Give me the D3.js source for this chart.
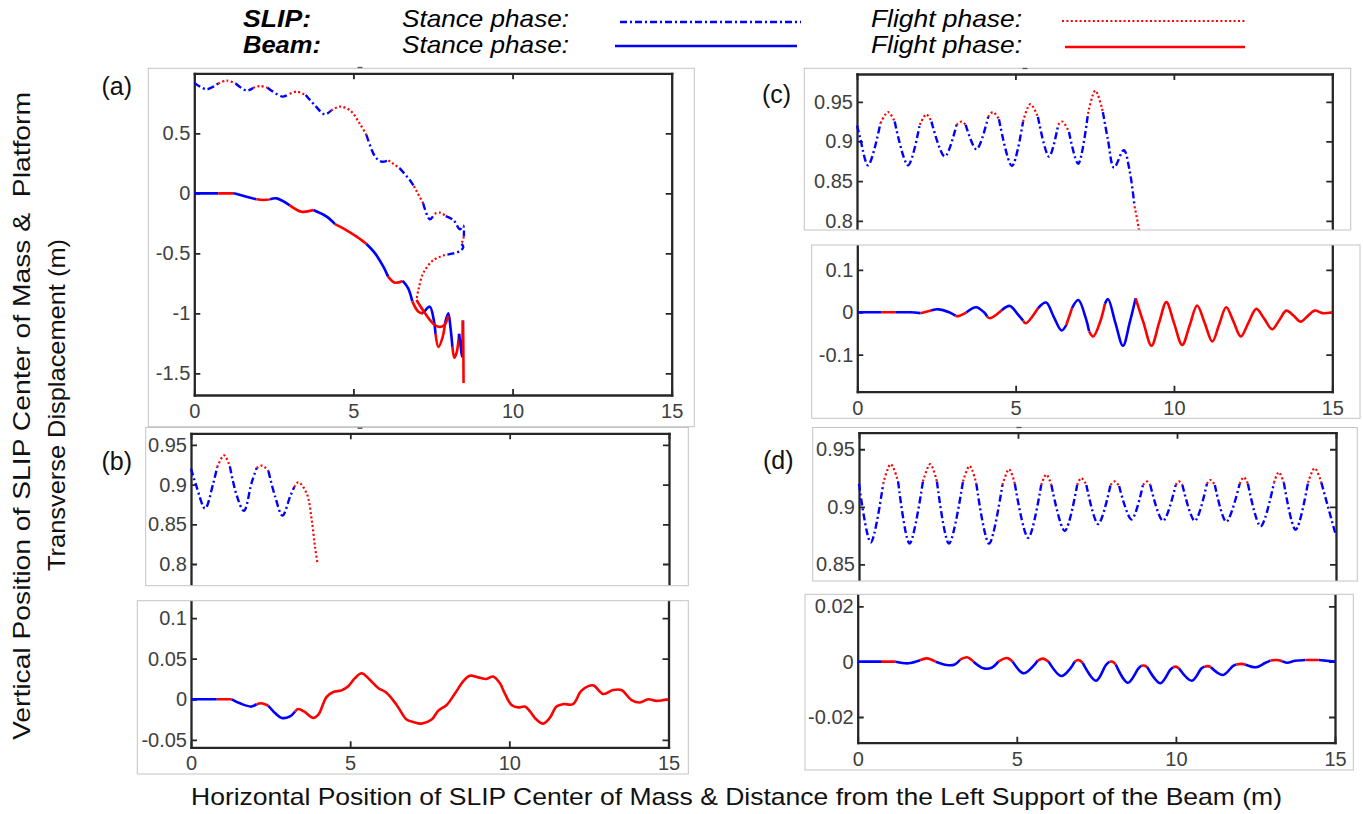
<!DOCTYPE html>
<html><head><meta charset="utf-8">
<script src="https://cdn.jsdelivr.net/npm/d3@7"></script>
<style>
body{margin:0;background:#fff}
svg{display:block}
text{font-family:"Liberation Sans",Arial,Helvetica,sans-serif}
</style>
</head><body>
<svg id="c" width="1363" height="814"></svg>
<script>
// ---------------- DATA ----------------
const X_DOMAIN = [0, 15];
const X_TICKS = [0, 5, 10, 15];
const X_TICK_LABELS = ["0", "5", "10", "15"];

const A_Y_DOMAIN = [-1.68, 1.0];
const A_Y_TICKS = [-1.5, -1, -0.5, 0, 0.5];
const A_Y_LABELS = ["-1.5", "-1", "-0.5", "0", "0.5"];

const B_SLIP_Y_DOMAIN = [0.75, 0.9647];
const C_SLIP_Y_DOMAIN = [0.75, 0.985];
const SLIP_Y_TICKS = [0.8, 0.85, 0.9, 0.95];
const SLIP_Y_LABELS = ["0.8", "0.85", "0.9", "0.95"];

const D_SLIP_Y_DOMAIN = [0.82, 0.9644];
const D_SLIP_Y_TICKS = [0.85, 0.9, 0.95];
const D_SLIP_Y_LABELS = ["0.85", "0.9", "0.95"];

const B_BEAM_Y_DOMAIN = [-0.0592, 0.13];
const B_BEAM_Y_TICKS = [-0.05, 0, 0.05, 0.1];
const B_BEAM_Y_LABELS = ["-0.05", "0", "0.05", "0.1"];

const C_BEAM_Y_DOMAIN = [-0.1875, 0.2];
const C_BEAM_Y_TICKS = [-0.1, 0, 0.1];
const C_BEAM_Y_LABELS = ["-0.1", "0", "0.1"];

const D_BEAM_Y_DOMAIN = [-0.0293, 0.03];
const D_BEAM_Y_TICKS = [-0.02, 0, 0.02];
const D_BEAM_Y_LABELS = ["-0.02", "0", "0.02"];

// [x, y, phase of the segment starting here]  S = stance, F = flight
const aSlip = [
 [0,0.92,"S"],[0.39,0.867,"S"],[0.75,0.915,"F"],[1.02,0.939,"F"],[1.30,0.915,"S"],[1.64,0.856,"S"],
 [1.85,0.878,"F"],[2.06,0.894,"F"],[2.30,0.88,"S"],[2.77,0.806,"S"],[3.0,0.83,"F"],[3.21,0.847,"F"],
 [3.5,0.82,"S"],[3.8,0.73,"S"],[4.10,0.658,"S"],[4.3,0.69,"F"],[4.58,0.722,"F"],[4.9,0.69,"F"],
 [5.2,0.58,"F"],[5.41,0.486,"S"],[5.68,0.306,"S"],[5.88,0.264,"S"],[6.1,0.275,"F"],[6.45,0.21,"S"],
 [6.77,0.111,"S"],[6.9,0.06,"F"],[7.19,-0.083,"S"],[7.40,-0.217,"S"],[7.55,-0.17,"F"],[7.72,-0.161,"F"],
 [7.9,-0.19,"S"],[8.14,-0.222,"S"],[8.35,-0.30,"S"],[8.45,-0.27,"S"],[8.47,-0.36,"F"],[8.40,-0.42,"S"],
 [8.45,-0.45,"S"],[8.35,-0.48,"S"],[8.14,-0.50,"S"],[7.87,-0.514,"F"],[7.51,-0.556,"F"],[7.19,-0.667,"F"],
 [7.04,-0.806,"F"],[6.98,-0.889,"F"]
];
const aBeam = [
 [0,0,"S"],[0.75,0,"F"],[1.25,0,"S"],[1.64,-0.028,"S"],[1.95,-0.05,"F"],[2.17,-0.056,"F"],[2.38,-0.05,"S"],
 [2.59,-0.042,"S"],[3.0,-0.10,"F"],[3.37,-0.153,"F"],[3.74,-0.139,"S"],[4.16,-0.194,"S"],[4.42,-0.256,"F"],
 [4.68,-0.292,"F"],[5.10,-0.361,"F"],[5.41,-0.422,"S"],[5.68,-0.50,"S"],[5.94,-0.611,"S"],[6.09,-0.694,"F"],
 [6.30,-0.744,"F"],[6.55,-0.73,"S"],[6.72,-0.792,"S"],[6.85,-0.9,"F"],[7.04,-0.986,"F"],[7.19,-1.0,"S"],
 [7.40,-0.944,"S"],[7.52,-1.05,"S"],[7.58,-1.17,"F"],[7.67,-1.28,"F"],[7.80,-1.2,"F"],[7.88,-1.08,"S"],
 [7.98,-1.0,"S"],[8.05,-1.12,"S"],[8.11,-1.28,"F"],[8.17,-1.37,"F"],[8.24,-1.33,"F"],[8.32,-1.17,"S"],
 [8.36,-1.25,"S"],[8.41,-1.36,"S"],[8.44,-1.06,"F"],[8.45,-1.2,"F"],[8.46,-1.58,"F"]
];
const aBeam2 = [
 [6.98,-0.889,"F"],[7.2,-0.98,"F"],[7.45,-1.07,"F"],[7.65,-1.11,"F"],[7.85,-1.1,"F"],[7.98,-1.02,"F"]
];

const bSlip = [
 [0,0.92,"S"],[0.18,0.897,"S"],[0.44,0.870,"S"],[0.70,0.902,"S"],[0.82,0.922,"F"],[1.04,0.937,"F"],
 [1.22,0.923,"S"],[1.43,0.887,"S"],[1.66,0.867,"S"],[1.90,0.902,"S"],[2.06,0.921,"F"],[2.24,0.924,"F"],
 [2.43,0.917,"S"],[2.64,0.885,"S"],[2.87,0.861,"S"],[3.11,0.885,"S"],[3.24,0.897,"F"],[3.37,0.903,"F"],
 [3.63,0.889,"F"],[3.79,0.855,"F"],[3.89,0.822,"F"],[3.97,0.801,"F"]
];
const bBeam = [
 [0,0,"S"],[0.81,0,"F"],[1.28,0,"S"],[1.54,-0.005,"S"],[1.90,-0.009,"S"],[2.06,-0.006,"F"],[2.22,-0.005,"F"],
 [2.43,-0.008,"S"],[2.64,-0.017,"S"],[2.85,-0.023,"S"],[3.11,-0.021,"S"],[3.27,-0.015,"F"],[3.37,-0.012,"F"],
 [3.55,-0.015,"F"],[3.84,-0.023,"F"],[4.0,-0.019,"F"],[4.26,0.003,"F"],[4.47,0.009,"F"],[4.73,0.011,"F"],
 [4.94,0.016,"F"],[5.15,0.026,"F"],[5.36,0.032,"F"],[5.57,0.026,"F"],[5.88,0.014,"F"],[6.14,0.008,"F"],
 [6.46,-0.007,"F"],[6.77,-0.025,"F"],[6.98,-0.028,"F"],[7.24,-0.030,"F"],[7.56,-0.025,"F"],[7.77,-0.014,"F"],
 [8.03,-0.007,"F"],[8.29,0.007,"F"],[8.55,0.022,"F"],[8.76,0.029,"F"],[9.02,0.027,"F"],[9.28,0.025,"F"],
 [9.49,0.028,"F"],[9.70,0.020,"F"],[9.86,0.007,"F"],[10.07,-0.007,"F"],[10.28,-0.010,"F"],[10.49,-0.009,"F"],
 [10.65,-0.015,"F"],[10.85,-0.025,"F"],[11.06,-0.030,"F"],[11.27,-0.023,"F"],[11.48,-0.009,"F"],
 [11.69,-0.006,"F"],[12.0,-0.006,"F"],[12.25,0.010,"F"],[12.5,0.0165,"F"],[12.65,0.017,"F"],
 [12.95,0.0065,"F"],[13.26,0.0114,"F"],[13.52,0.0114,"F"],[13.84,-0.001,"F"],[14.1,-0.004,"F"],
 [14.36,0,"F"],[14.62,-0.002,"F"],[15,0,"F"]
];

const cSlip = [
 [0,0.92,"S"],[0.09,0.906,"S"],[0.35,0.870,"S"],[0.74,0.923,"F"],[0.98,0.937,"F"],[1.19,0.925,"S"],
 [1.61,0.870,"S"],[1.98,0.921,"F"],[2.19,0.934,"F"],[2.35,0.925,"S"],[2.77,0.881,"S"],[3.14,0.921,"F"],
 [3.30,0.925,"F"],[3.43,0.921,"S"],[3.77,0.890,"S"],[4.14,0.931,"F"],[4.29,0.937,"F"],[4.48,0.928,"S"],
 [4.89,0.869,"S"],[5.24,0.925,"F"],[5.47,0.947,"F"],[5.71,0.931,"S"],[6.06,0.881,"S"],[6.35,0.921,"F"],
 [6.48,0.925,"F"],[6.69,0.912,"S"],[6.98,0.872,"S"],[7.29,0.935,"F"],[7.52,0.964,"F"],[7.76,0.937,"S"],
 [7.92,0.902,"S"],[8.11,0.867,"S"],[8.42,0.889,"S"],[8.60,0.864,"S"],[8.76,0.818,"F"],[8.90,0.788,"F"],
 [8.96,0.76,"F"]
];
const cBeam = [
 [0,0,"S"],[0.75,0,"F"],[1.22,0,"S"],[1.67,0,"S"],[2.0,-0.002,"F"],[2.33,0.004,"S"],[2.56,0.007,"S"],
 [2.9,0.0,"S"],[3.1,-0.008,"F"],[3.19,-0.009,"F"],[3.45,0.0,"S"],[3.75,0.012,"S"],[4.0,0.0,"S"],
 [4.1,-0.01,"F"],[4.19,-0.014,"F"],[4.56,0.005,"S"],[4.82,0.015,"S"],[5.07,-0.005,"S"],[5.24,-0.02,"F"],
 [5.32,-0.026,"F"],[5.71,0.01,"S"],[5.96,0.023,"S"],[6.2,-0.01,"S"],[6.45,-0.043,"S"],[6.6,-0.03,"F"],
 [6.78,0.01,"S"],[6.98,0.029,"S"],[7.22,-0.015,"S"],[7.32,-0.045,"F"],[7.45,-0.057,"F"],[7.68,-0.02,"F"],
 [7.82,0.02,"S"],[7.92,0.031,"S"],[8.15,-0.025,"S"],[8.39,-0.079,"S"],[8.6,-0.025,"S"],[8.79,0.033,"F"],
 [9.04,-0.025,"F"],[9.29,-0.079,"F"],[9.53,-0.025,"F"],[9.76,0.024,"F"],[10.0,-0.025,"F"],[10.26,-0.077,"F"],
 [10.5,-0.03,"F"],[10.73,0.016,"F"],[10.97,-0.025,"F"],[11.21,-0.069,"F"],[11.43,-0.028,"F"],
 [11.65,0.012,"F"],[11.88,-0.022,"F"],[12.11,-0.057,"F"],[12.35,-0.025,"F"],[12.6,0.008,"F"],
 [12.85,-0.015,"F"],[13.1,-0.040,"F"],[13.33,-0.018,"F"],[13.55,0.004,"F"],[13.78,-0.008,"F"],
 [14.0,-0.022,"F"],[14.22,-0.009,"F"],[14.44,0.004,"F"],[14.7,-0.002,"F"],[15,0,"F"]
];

const dSlip = [
 [0,0.92,"S"],[0.37,0.869,"S"],[0.76,0.920,"F"],[0.997,0.937,"F"],[1.23,0.922,"S"],[1.59,0.868,"S"],
 [2.01,0.922,"F"],[2.24,0.937,"F"],[2.45,0.922,"S"],[2.83,0.868,"S"],[3.27,0.922,"F"],[3.48,0.9355,"F"],
 [3.69,0.920,"S"],[4.09,0.868,"S"],[4.51,0.919,"F"],[4.72,0.9326,"F"],[4.90,0.920,"S"],[5.32,0.873,"S"],
 [5.73,0.919,"F"],[5.89,0.928,"F"],[6.05,0.919,"S"],[6.47,0.879,"S"],[6.86,0.919,"F"],[6.99,0.925,"F"],
 [7.15,0.919,"S"],[7.52,0.885,"S"],[7.91,0.919,"F"],[8.04,0.922,"F"],[8.18,0.918,"S"],[8.57,0.889,"S"],
 [8.93,0.919,"F"],[9.06,0.922,"F"],[9.16,0.919,"S"],[9.56,0.8877,"S"],[9.96,0.919,"F"],[10.06,0.922,"F"],
 [10.17,0.919,"S"],[10.56,0.8877,"S"],[10.94,0.920,"F"],[11.05,0.9233,"F"],[11.19,0.919,"S"],
 [11.55,0.887,"S"],[11.97,0.920,"F"],[12.10,0.9257,"F"],[12.23,0.920,"S"],[12.63,0.883,"S"],
 [13.05,0.921,"F"],[13.20,0.930,"F"],[13.36,0.921,"S"],[13.73,0.880,"S"],[14.12,0.921,"F"],
 [14.33,0.9335,"F"],[14.54,0.921,"S"],[15,0.8746,"S"]
];
const dBeam = [
 [0,0,"S"],[0.76,0,"F"],[1.2,0,"S"],[1.59,-0.0006,"S"],[1.96,0.0005,"F"],[2.17,0.0012,"F"],[2.45,0.0,"S"],
 [2.8,-0.0012,"S"],[3.05,-0.001,"S"],[3.22,0.0007,"F"],[3.43,0.0016,"F"],[3.64,0.0,"S"],[3.95,-0.0024,"S"],
 [4.21,-0.0022,"S"],[4.42,0.0,"F"],[4.69,0.0013,"F"],[4.87,0.0,"S"],[5.21,-0.0042,"S"],[5.5,-0.0018,"S"],
 [5.66,0.0004,"F"],[5.82,0.0011,"F"],[6.0,0.0,"S"],[6.40,-0.0052,"S"],[6.68,-0.0025,"S"],[6.82,0.0,"F"],
 [6.94,0.0006,"F"],[7.07,-0.0004,"S"],[7.49,-0.0069,"S"],[7.8,-0.0012,"S"],[7.91,0.0,"F"],[8.01,0.0,"F"],
 [8.11,-0.001,"S"],[8.49,-0.0076,"S"],[8.82,-0.0025,"S"],[8.91,-0.0015,"F"],[9.0,-0.0014,"F"],
 [9.1,-0.002,"S"],[9.51,-0.0078,"S"],[9.82,-0.003,"S"],[9.91,-0.002,"F"],[10.0,-0.0018,"F"],
 [10.1,-0.0025,"S"],[10.5,-0.0069,"S"],[10.8,-0.0025,"S"],[10.9,-0.0018,"F"],[11.0,-0.0016,"F"],
 [11.1,-0.002,"S"],[11.48,-0.0048,"S"],[11.8,-0.0015,"S"],[11.9,-0.001,"F"],[12.05,-0.0008,"F"],
 [12.18,-0.001,"S"],[12.52,-0.002,"S"],[12.8,-0.0005,"S"],[12.97,0.0004,"F"],[13.15,0.0006,"F"],
 [13.34,0.0002,"S"],[13.49,-0.0004,"S"],[13.75,0.0003,"S"],[14.07,0.0006,"F"],[14.3,0.0006,"F"],
 [14.49,0.0006,"S"],[15,0.0,"S"]
];

const LEGEND_ROWS = ["SLIP:", "Beam:"];
const LEGEND_PHASES = ["Stance phase:", "Flight phase:"];
const PANEL_LABELS = ["(a)", "(b)", "(c)", "(d)"];
const X_TITLE = "Horizontal Position of SLIP Center of Mass & Distance from the Left Support of the Beam (m)";
const Y_TITLE_1 = "Vertical Position of SLIP Center of Mass &  Platform";
const Y_TITLE_2 = "Transverse Displacement (m)";

// ---------------- LAYOUT ----------------
const panels = [
 {frame:[148.3,68.3,694.3,426.7], ax:[194.3,671.7,73.3,395], yDom:A_Y_DOMAIN, yT:A_Y_TICKS, yL:A_Y_LABELS,
  curves:[[aBeam,"beam"],[aBeam2,"beam"],[aSlip,"slip"]]},
 {frame:[145.7,427.5,688.3,585.7], ax:[191,669,433.3,603.7], yDom:B_SLIP_Y_DOMAIN, yT:SLIP_Y_TICKS, yL:SLIP_Y_LABELS,
  curves:[[bSlip,"slip"]]},
 {frame:[137.3,600.7,688.3,774], ax:[191,668.5,593.8,747.3], yDom:B_BEAM_Y_DOMAIN, yT:B_BEAM_Y_TICKS, yL:B_BEAM_Y_LABELS,
  curves:[[bBeam,"beam"]]},
 {frame:[804.3,68.3,1350.7,230], ax:[857,1332.3,74,260.5], yDom:C_SLIP_Y_DOMAIN, yT:SLIP_Y_TICKS, yL:SLIP_Y_LABELS,
  curves:[[cSlip,"slip"]]},
 {frame:[811.7,245,1360,418.3], ax:[857.3,1332.3,227.6,391.7], yDom:C_BEAM_Y_DOMAIN, yT:C_BEAM_Y_TICKS, yL:C_BEAM_Y_LABELS,
  curves:[[cBeam,"beam"]]},
 {frame:[812.7,427.5,1357.3,581], ax:[859,1336,432.7,598.8], yDom:D_SLIP_Y_DOMAIN, yT:D_SLIP_Y_TICKS, yL:D_SLIP_Y_LABELS,
  curves:[[dSlip,"slip"]]},
 {frame:[805,594.3,1353.3,770], ax:[857.7,1335,578.7,742.7], yDom:D_BEAM_Y_DOMAIN, yT:D_BEAM_Y_TICKS, yL:D_BEAM_Y_LABELS,
  curves:[[dBeam,"beam"]]}
];

const STYLE = {
  slipS:{stroke:"#0000ff", w:2.4, dash:"7,3,2,3"},
  slipF:{stroke:"#ff0000", w:2.2, dash:"2,2.4"},
  beamS:{stroke:"#0000ff", w:2.6, dash:null},
  beamF:{stroke:"#ff0000", w:2.6, dash:null}
};
const AXIS_COLOR = "#262626";
const TICK_TEXT = "#404040";

const svg = d3.select("#c");
const defs = svg.append("defs");

function runs(pts){
  const out = [];
  let s = 0;
  for (let i = 1; i < pts.length; i++) {
    if (pts[i][2] !== pts[s][2] || i === pts.length - 1) {
      out.push({ph: pts[s][2], pts: pts.slice(s, i + 1)});
      s = i;
    }
  }
  return out;
}

panels.forEach((p, i) => {
  const [fx0, fy0, fx1, fy1] = p.frame;
  svg.append("rect").attr("x", fx0).attr("y", fy0).attr("width", fx1 - fx0).attr("height", fy1 - fy0)
     .attr("fill", "#fff").attr("stroke", "none");
  defs.append("clipPath").attr("id", "clip" + i).append("rect")
     .attr("x", fx0).attr("y", fy0).attr("width", fx1 - fx0).attr("height", fy1 - fy0);
  const g = svg.append("g").attr("clip-path", `url(#clip${i})`);
  const [l, r, t, b] = p.ax;
  const x = d3.scaleLinear().domain(X_DOMAIN).range([l, r]);
  const y = d3.scaleLinear().domain(p.yDom).range([b, t]);

  const styleAxis = sel => {
    sel.select(".domain").attr("stroke", AXIS_COLOR).attr("stroke-width", 2.3);
    sel.selectAll(".tick line").attr("stroke", AXIS_COLOR).attr("stroke-width", 1.8);
    sel.selectAll(".tick text").attr("fill", TICK_TEXT).attr("font-size", 20)
       .attr("font-family", '"Liberation Sans",Arial,sans-serif');
  };
  g.append("g").attr("transform", `translate(0,${b})`)
   .call(d3.axisBottom(x).tickValues(X_TICKS).tickFormat((d, k) => X_TICK_LABELS[k]).tickSize(-6).tickSizeOuter(0).tickPadding(9))
   .call(styleAxis);
  g.append("g").attr("transform", `translate(0,${t})`)
   .call(d3.axisTop(x).tickValues(X_TICKS).tickFormat("").tickSize(-6).tickSizeOuter(0))
   .call(styleAxis);
  g.append("g").attr("transform", `translate(${l},0)`)
   .call(d3.axisLeft(y).tickValues(p.yT).tickFormat((d, k) => p.yL[k]).tickSize(-6).tickSizeOuter(0).tickPadding(4))
   .call(styleAxis);
  g.append("g").attr("transform", `translate(${r},0)`)
   .call(d3.axisRight(y).tickValues(p.yT).tickFormat("").tickSize(-6).tickSizeOuter(0))
   .call(styleAxis);
  g.selectAll(".domain").attr("stroke-linecap", "square");

  const line = d3.line().x(d => x(d[0])).y(d => y(d[1])).curve(d3.curveCatmullRom.alpha(0.5));
  p.curves.forEach(([data, kind]) => {
    runs(data).forEach(run => {
      const st = STYLE[kind + run.ph];
      g.append("path").attr("d", line(run.pts)).attr("fill", "none")
       .attr("stroke", st.stroke).attr("stroke-width", st.w)
       .attr("stroke-dasharray", st.dash).attr("stroke-linejoin", "round");
    });
  });

  svg.append("rect").attr("x", fx0).attr("y", fy0).attr("width", fx1 - fx0).attr("height", fy1 - fy0)
     .attr("fill", "none").attr("stroke", "#c4c4c4").attr("stroke-width", 1);
});

// small title placeholders
[[360,67.5],[360,428.3],[1025,68.5],[1019,427.5]].forEach(([mx,my]) => {
  svg.append("line").attr("x1", mx - 2.5).attr("x2", mx + 2.5).attr("y1", my).attr("y2", my)
     .attr("stroke", "#555").attr("stroke-width", 1.3);
});

// panel labels
const labelPos = [[101.5,95],[101.5,470],[762,103],[763,469]];
PANEL_LABELS.forEach((s, k) => {
  svg.append("text").attr("x", labelPos[k][0]).attr("y", labelPos[k][1]).attr("font-size", 25)
     .attr("fill", "#111").text(s);
});

// legend
const legY = [27, 53];
LEGEND_ROWS.forEach((s, k) => {
  svg.append("text").attr("x", 243).attr("y", legY[k]).attr("font-size", 24)
     .attr("font-weight", "bold").attr("font-style", "italic").attr("fill", "#000")
     .attr("textLength", k === 0 ? 68 : 78).attr("lengthAdjust", "spacingAndGlyphs").text(s);
  svg.append("text").attr("x", 402).attr("y", legY[k]).attr("font-size", 24)
     .attr("font-style", "italic").attr("fill", "#000")
     .attr("textLength", 167).attr("lengthAdjust", "spacingAndGlyphs").text(LEGEND_PHASES[0]);
  svg.append("text").attr("x", 871).attr("y", legY[k]).attr("font-size", 24)
     .attr("font-style", "italic").attr("fill", "#000")
     .attr("textLength", 151).attr("lengthAdjust", "spacingAndGlyphs").text(LEGEND_PHASES[1]);
});
const legLines = [
  [620, 801, 22, STYLE.slipS], [1062, 1245, 21, STYLE.slipF],
  [615, 797, 46, STYLE.beamS], [1065, 1245, 47, STYLE.beamF]
];
legLines.forEach(([x1, x2, ly, st]) => {
  svg.append("line").attr("x1", x1).attr("x2", x2).attr("y1", ly).attr("y2", ly)
     .attr("stroke", st.stroke).attr("stroke-width", st.w).attr("stroke-dasharray", st.dash);
});

// axis titles
svg.append("text").attr("x", 736.5).attr("y", 805).attr("text-anchor", "middle").attr("font-size", 24)
   .attr("fill", "#111").attr("textLength", 1091).attr("lengthAdjust", "spacingAndGlyphs").text(X_TITLE);
svg.append("text").attr("transform", "translate(30,416) rotate(-90)").attr("text-anchor", "middle")
   .attr("font-size", 24).attr("fill", "#111").attr("textLength", 648).attr("lengthAdjust", "spacingAndGlyphs")
   .attr("xml:space", "preserve").style("white-space", "pre").text(Y_TITLE_1);
svg.append("text").attr("transform", "translate(65,405) rotate(-90)").attr("text-anchor", "middle")
   .attr("font-size", 24).attr("fill", "#111").attr("textLength", 332).attr("lengthAdjust", "spacingAndGlyphs")
   .text(Y_TITLE_2);
</script>
</body></html>
